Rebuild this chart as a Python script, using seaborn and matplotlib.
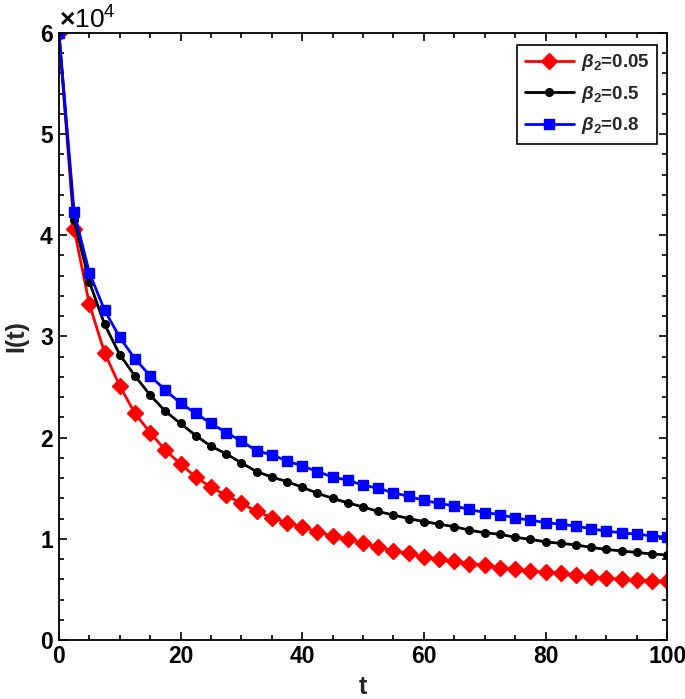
import numpy as np
import pandas as pd
import seaborn as sns
import matplotlib.pyplot as plt
from matplotlib.ticker import MultipleLocator, ScalarFormatter

# time grid (markers every 2.5)
t = np.arange(0, 100.01, 2.5)

# I(t), one list per beta_2
I_005 = [60000, 40600, 33200, 28400, 25100, 22400, 20500, 18750, 17400, 16100,
         15100, 14300, 13500, 12700, 12100, 11600, 11200, 10650, 10300, 9950,
         9550, 9150, 8800, 8550, 8200, 8000, 7800, 7550, 7400, 7150,
         7000, 6850, 6700, 6600, 6400, 6250, 6100, 6000, 5900, 5850, 5800]
I_05 = [60000, 41500, 35400, 31200, 28200, 26100, 24200, 22600, 21400, 20200,
        19150, 18400, 17500, 16650, 16100, 15650, 15100, 14500, 14000, 13550,
        13150, 12700, 12350, 12000, 11700, 11450, 11200, 10850, 10600, 10450,
        10150, 9950, 9700, 9550, 9400, 9150, 8950, 8800, 8650, 8500, 8400]
I_08 = [60000, 42300, 36300, 32600, 29900, 27800, 26100, 24700, 23400, 22400,
        21400, 20500, 19650, 18700, 18300, 17700, 17200, 16650, 16100, 15800,
        15300, 15000, 14550, 14200, 13800, 13500, 13250, 12900, 12600, 12400,
        12050, 11850, 11600, 11450, 11250, 11000, 10750, 10600, 10450, 10300, 10150]

labels = [r'$\beta_2$=0.05', r'$\beta_2$=0.5', r'$\beta_2$=0.8']
colors = ['#ff0000', '#000000', '#0000ff']
markers = ['D', 'o', 's']
msizes = [8, 5.5, 7.5]

sns.set_theme(style='ticks')
plt.rcParams['font.family'] = ['Liberation Sans', 'DejaVu Sans']
plt.rcParams['font.weight'] = 'bold'
plt.rcParams['mathtext.fontset'] = 'custom'
plt.rcParams['mathtext.it'] = 'Liberation Sans:italic'
plt.rcParams['mathtext.rm'] = 'Liberation Sans:bold'
plt.rcParams['mathtext.bf'] = 'Liberation Sans:bold'

fig = plt.figure(figsize=(6.85, 6.99), dpi=100)
ax = fig.add_axes([0.086, 0.0844, 0.888, 0.8686])

for ys, lab, c, m, ms in zip([I_005, I_05, I_08], labels, colors, markers, msizes):
    df = pd.DataFrame({'t': t, 'I': ys})
    sns.lineplot(data=df, x='t', y='I', ax=ax, color=c, marker=m, markersize=ms,
                 markeredgecolor=c, markeredgewidth=1, linewidth=2, label=lab)

ax.set_xlim(0, 100)
ax.set_ylim(0, 60000)
ax.xaxis.set_major_locator(MultipleLocator(20))
ax.xaxis.set_minor_locator(MultipleLocator(5))
ax.yaxis.set_major_locator(MultipleLocator(10000))
ax.yaxis.set_minor_locator(MultipleLocator(2000))

fmt = ScalarFormatter(useMathText=True)
fmt.set_powerlimits((0, 0))
ax.yaxis.set_major_formatter(fmt)
off = ax.yaxis.get_offset_text()
off.set_fontsize(19)
off.set_fontweight('normal')

ax.tick_params(which='both', direction='in', top=True, right=True, colors='black',
               width=1.2, labelsize=16.5)
ax.tick_params(which='major', length=6)
ax.tick_params(which='minor', length=3.5)
for s in ax.spines.values():
    s.set_linewidth(1.3)
    s.set_color('black')

ax.set_xlabel('t', fontsize=18, fontweight='bold', labelpad=5)
ax.set_ylabel('I(t)', fontsize=18, fontweight='bold', labelpad=8)

leg = ax.legend(loc='upper right', fontsize=13.5, frameon=True, fancybox=False,
                edgecolor='black', framealpha=1, handlelength=2.6, handletextpad=0.4,
                borderaxespad=0, labelspacing=0.55, borderpad=0.4,
                bbox_to_anchor=(0.984, 0.980))
leg.get_frame().set_linewidth(1.2)

fig.savefig('out.png', dpi=100)
